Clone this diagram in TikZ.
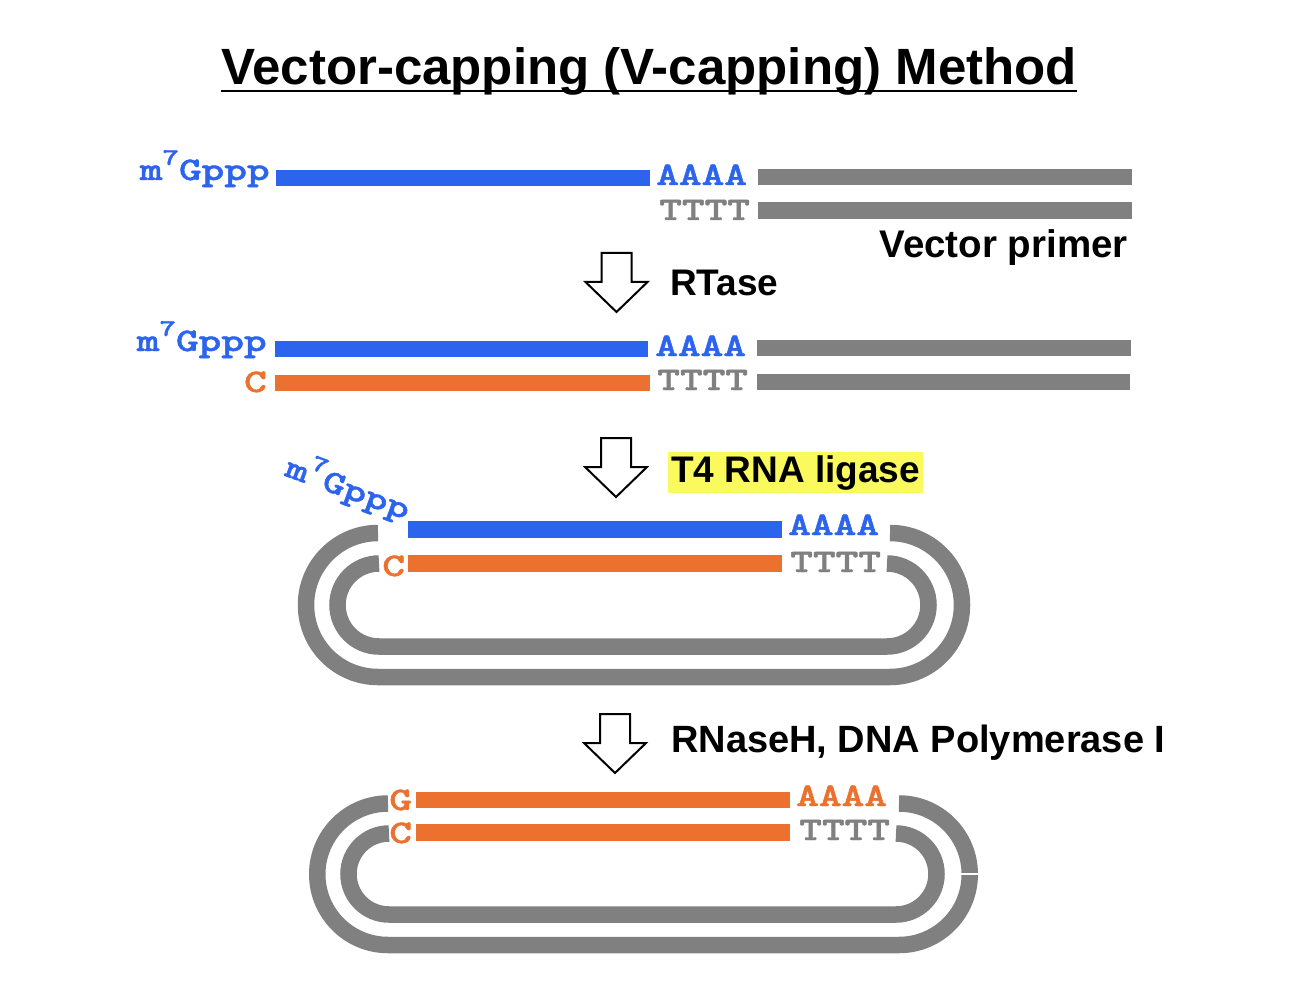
\documentclass[tikz,border=0pt]{standalone}
\usepackage{fontspec}
\setmainfont{Liberation Sans}
\newfontfamily\capmono[Extension=.otf, FakeBold=1.2]{lmmonolt10-bold}
\definecolor{rnablue}{RGB}{45,100,238}
\definecolor{cdnaorange}{RGB}{236,112,46}
\definecolor{vecgray}{RGB}{128,128,128}
\definecolor{hlyellow}{RGB}{250,250,95}
\newcommand{\dnaloop}[4]{% #1 left arc centre x, #2 right arc centre x, #3 top y, #4 bottom y
  \pgfmathsetmacro\lpmid{(#3+#4)/2}%
  \pgfmathsetmacro\lpr{(#4-#3)/2}%
  \pgfmathsetmacro\lpk{0.5523*\lpr}%
  \draw[loopline] (#1,#3)
    .. controls ({#1-\lpk},#3) and ({#1-\lpr},{\lpmid-\lpk}) .. ({#1-\lpr},\lpmid)
    .. controls ({#1-\lpr},{\lpmid+\lpk}) and ({#1-\lpk},#4) .. (#1,#4)
    -- (#2,#4)
    .. controls ({#2+\lpk},#4) and ({#2+\lpr},{\lpmid+\lpk}) .. ({#2+\lpr},\lpmid)
    .. controls ({#2+\lpr},{\lpmid-\lpk}) and ({#2+\lpk},#3) .. (#2,#3);%
}
\begin{document}
\begin{tikzpicture}[x=1pt,y=-1pt,
  mono/.style={font=\fontsize{33}{33}\selectfont\capmono, inner sep=0, xscale=1.31},
  lab/.style={font=\fontsize{37}{40}\selectfont\bfseries, inner sep=0},
  bar/.style={line width=16.5, line cap=butt},
  loopline/.style={line width=16.5, draw=vecgray, line cap=butt},
  hollowarrow/.pic={\draw[line width=2, fill=white, line join=miter] (-15,0) -- (15,0) -- (15,29) -- (31,29) -- (0,59) -- (-31,29) -- (-15,29) -- cycle;}
]
\useasboundingbox (0,0) rectangle (1290,992);
\fill[white] (0,0) rectangle (1290,992);

% title
\node (title) [font=\fontsize{51}{60}\selectfont\bfseries, inner sep=0, anchor=base] at (649,85) {Vector-capping (V-capping) Method};
\draw[line width=2.5] ([yshift=-6]title.base west) -- ([yshift=-6]title.base east);

% row 1
\node (cap1) [mono, rnablue, anchor=base east] at (270,180) {m\raisebox{15pt}{\fontsize{24}{24}\selectfont 7}Gppp};
\draw[bar, rnablue] (276,178) -- (650,178);
\node (a1) [mono, rnablue, anchor=base west] at (656,185) {AAAA};
\draw[bar, vecgray] (758,177) -- (1132,177);
\node (t1) [mono, vecgray, anchor=base west] at (659,220) {TTTT};
\draw[bar, vecgray] (758,210.5) -- (1132,210.5);
\node (vp) [lab, font=\fontsize{38.5}{40}\selectfont\bfseries, anchor=base east] at (1128,258) {Vector primer};

\pic at (616.5,253) {hollowarrow};
\node (rt) [lab, anchor=base west] at (670,295) {RTase};

% row 2
\node (cap2) [mono, rnablue, anchor=base east] at (267,351) {m\raisebox{15pt}{\fontsize{24}{24}\selectfont 7}Gppp};
\draw[bar, rnablue] (275,349) -- (648,349);
\node (a2) [mono, rnablue, anchor=base west] at (655,356) {AAAA};
\draw[bar, vecgray] (757,348) -- (1131,348);
\node (c2) [mono, cdnaorange, anchor=base east] at (267,392) {C};
\draw[bar, cdnaorange] (275,383) -- (650,383);
\node (t2) [mono, vecgray, anchor=base west] at (657,390) {TTTT};
\draw[bar, vecgray] (757,382) -- (1130,382);

\pic at (616,438) {hollowarrow};
\node (t4) [lab, fill=hlyellow, inner xsep=3, inner ysep=3, anchor=base west] at (668,482) {T4 RNA ligase};

% row 3
\dnaloop{378}{890}{533}{677}
\dnaloop{379}{887}{563.5}{646.5}
\node (cap3) [rotate=-20, mono, rnablue, anchor=base east] at (406,520) {m\raisebox{15pt}{\fontsize{24}{24}\selectfont 7}Gppp};
\draw[bar, rnablue] (408,529.5) -- (782,529.5);
\node (a3) [mono, rnablue, anchor=base west] at (788,535) {AAAA};
\node (c3) [mono, cdnaorange, anchor=base west] at (382,576) {C};
\draw[bar, cdnaorange] (408,563.5) -- (782,563.5);
\node (t3) [mono, vecgray, anchor=base west] at (790,572) {TTTT};

\pic at (615,714) {hollowarrow};
\node (rn) [lab, font=\fontsize{38}{40}\selectfont\bfseries, anchor=base west] at (671,752) {RNaseH, DNA Polymerase I};

% row 4
\dnaloop{388}{899}{803.5}{945}
\dnaloop{389}{896}{833.5}{914.5}
\draw[white, line width=1.2] (958,874) -- (982,874);
\node (g4) [mono, cdnaorange, anchor=base west] at (389,810) {G};
\draw[bar, cdnaorange] (416,800) -- (790,800);
\node (a4) [mono, cdnaorange, anchor=base west] at (796,806) {AAAA};
\node (c4) [mono, cdnaorange, anchor=base west] at (389,843) {C};
\draw[bar, cdnaorange] (416,832.5) -- (790,832.5);
\node (t4t) [mono, vecgray, anchor=base west] at (799,840) {TTTT};
\end{tikzpicture}
\end{document}
